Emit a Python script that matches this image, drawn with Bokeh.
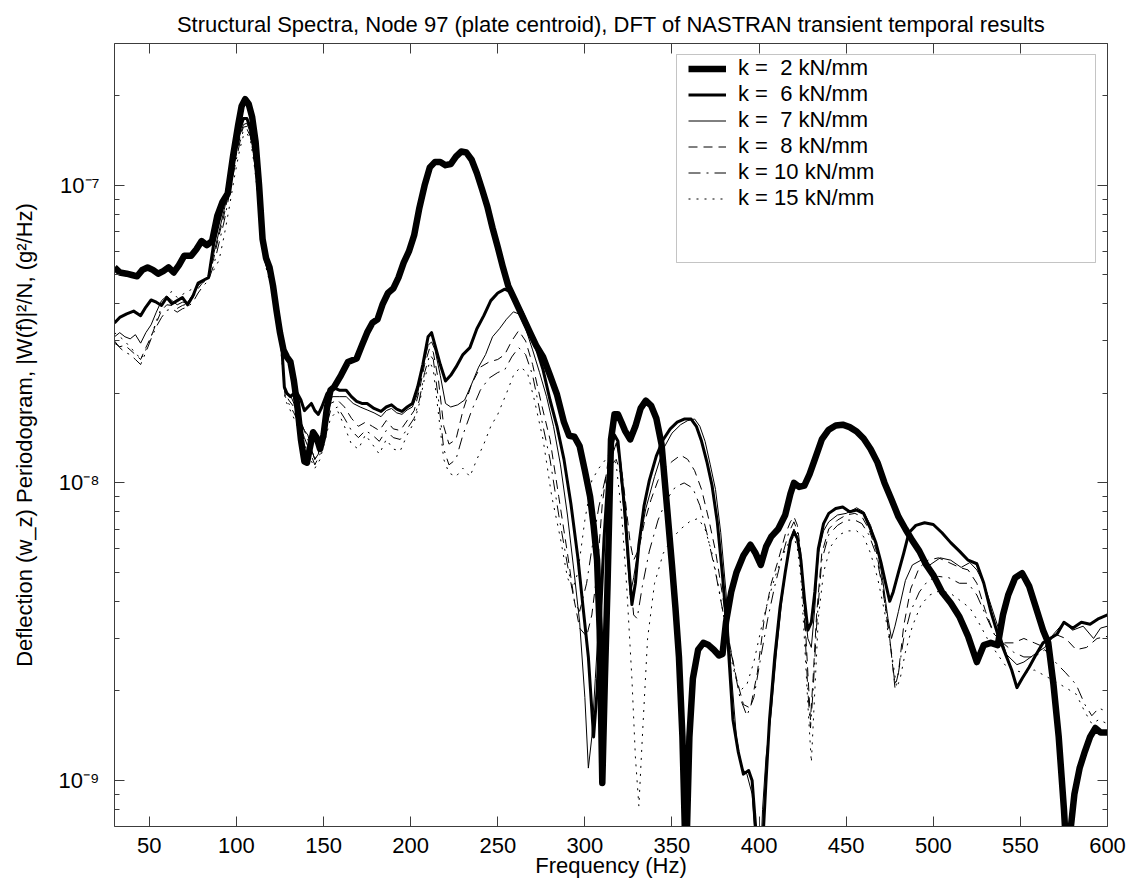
import math
from bokeh.plotting import figure
from bokeh.models import (LinearAxis, LogAxis, FixedTicker, CustomJSTickFormatter, Title,
                          Legend, LegendItem, BoxAnnotation, Range1d)
from bokeh.embed import file_html
from bokeh.resources import INLINE

# ---------------- data (frequency Hz, periodogram g^2/Hz) ----------------
k2 = [(30, 5.3e-8), (33, 5.1e-8), (37, 5.05e-8), (40, 5.0e-8), (43, 4.95e-8), (46, 5.2e-8),
      (49, 5.3e-8), (52, 5.2e-8), (55, 5.05e-8), (58, 5.15e-8), (61, 5.3e-8), (64, 5.1e-8),
      (67, 5.4e-8), (70, 5.8e-8), (74, 5.8e-8), (77, 6.1e-8), (80, 6.5e-8), (83, 6.3e-8),
      (86, 6.5e-8), (89, 7.9e-8), (92, 8.8e-8), (95, 9.4e-8), (98, 1.25e-7), (101, 1.6e-7),
      (103, 1.85e-7), (105, 1.95e-7), (107, 1.88e-7), (109, 1.7e-7), (111, 1.4e-7), (113, 1.0e-7),
      (115, 6.6e-8), (117, 5.7e-8), (119, 5.3e-8), (121, 4.6e-8), (123, 3.8e-8), (125, 3.2e-8),
      (127, 2.8e-8), (129, 2.65e-8), (131, 2.55e-8), (133, 2.2e-8), (135, 1.8e-8), (137, 1.4e-8),
      (139, 1.18e-8), (140.5, 1.17e-8), (142, 1.3e-8), (144, 1.48e-8), (146, 1.42e-8), (148, 1.3e-8),
      (150, 1.45e-8), (152, 1.8e-8), (154, 2.05e-8), (156, 2.1e-8), (160, 2.3e-8), (164, 2.55e-8),
      (169, 2.62e-8), (172, 2.9e-8), (175, 3.2e-8), (178, 3.45e-8), (181, 3.55e-8), (184, 4.0e-8),
      (187, 4.35e-8), (190, 4.5e-8), (193, 4.9e-8), (196, 5.5e-8), (199, 6.0e-8), (202, 6.8e-8),
      (205, 8.4e-8), (208, 1.0e-7), (211, 1.15e-7), (214, 1.2e-7), (217, 1.2e-7), (220, 1.17e-7),
      (223, 1.18e-7), (226, 1.25e-7), (229, 1.3e-7), (232, 1.29e-7), (235, 1.22e-7), (238, 1.1e-7),
      (241, 9.7e-8), (244, 8.5e-8), (247, 7.2e-8), (250, 6.2e-8), (253, 5.3e-8), (256, 4.6e-8),
      (260, 4.1e-8), (264, 3.65e-8), (268, 3.25e-8), (272, 2.9e-8), (276, 2.65e-8), (280, 2.3e-8),
      (284, 1.98e-8), (288, 1.6e-8), (291, 1.44e-8), (294, 1.43e-8), (297, 1.33e-8), (300, 1.1e-8),
      (303, 9.0e-9), (305, 7.2e-9), (307, 5.5e-9), (308.5, 3.2e-9), (310, 9.8e-10), (311.5, 2.2e-9),
      (313, 4.5e-9), (315, 1.4e-8), (317, 1.7e-8), (319, 1.7e-8), (321, 1.6e-8), (323, 1.5e-8),
      (326, 1.4e-8), (329, 1.55e-8), (332, 1.78e-8), (335, 1.89e-8), (338, 1.82e-8), (341, 1.65e-8),
      (344, 1.35e-8), (347, 8.5e-9), (350, 5.3e-9), (352, 3.8e-9), (354, 2.6e-9), (356, 1.4e-9),
      (358, 5e-10), (360, 1.4e-9), (362, 2.2e-9), (365, 2.75e-9), (368, 2.9e-9), (371, 2.85e-9),
      (374, 2.75e-9), (377, 2.63e-9), (379, 2.66e-9), (381, 3.4e-9), (384, 4.3e-9), (387, 5.0e-9),
      (391, 5.7e-9), (395, 6.2e-9), (398, 5.8e-9), (401, 5.3e-9), (404, 6.1e-9), (407, 6.6e-9),
      (411, 7.0e-9), (415, 7.8e-9), (418, 9.2e-9), (420, 1.0e-8), (423, 9.7e-9), (426, 9.8e-9),
      (429, 1.07e-8), (432, 1.2e-8), (436, 1.4e-8), (440, 1.51e-8), (444, 1.56e-8), (448, 1.57e-8),
      (452, 1.54e-8), (456, 1.49e-8), (460, 1.41e-8), (464, 1.3e-8), (468, 1.17e-8), (472, 1.0e-8),
      (476, 8.8e-9), (480, 7.7e-9), (484, 7.0e-9), (488, 6.4e-9), (492, 5.9e-9), (496, 5.3e-9),
      (500, 4.9e-9), (505, 4.3e-9), (510, 3.95e-9), (515, 3.55e-9), (520, 3.05e-9), (525, 2.5e-9),
      (529, 2.85e-9), (533, 2.9e-9), (537, 2.85e-9), (540, 3.6e-9), (543, 4.2e-9), (547, 4.8e-9),
      (551, 4.97e-9), (555, 4.5e-9), (559, 3.8e-9), (563, 3.2e-9), (566, 2.9e-9), (569, 2.1e-9),
      (572, 1.4e-9), (575, 8e-10), (577, 5e-10), (579, 7e-10), (581, 9e-10), (584, 1.1e-9),
      (587, 1.25e-9), (590, 1.4e-9), (593, 1.5e-9), (596, 1.45e-9), (600, 1.45e-9)]

k6 = [(30, 3.45e-8), (33, 3.6e-8), (37, 3.7e-8), (41, 3.78e-8), (45, 3.65e-8), (48, 3.9e-8),
      (51, 4.12e-8), (54, 4.05e-8), (57, 3.95e-8), (60, 4.2e-8), (63, 4.0e-8), (66, 4.1e-8),
      (69, 4.2e-8), (72, 3.97e-8), (75, 4.25e-8), (78, 4.7e-8), (81, 4.8e-8), (84, 4.9e-8),
      (87, 6.4e-8), (90, 7.6e-8), (93, 8.8e-8), (96, 1.05e-7), (99, 1.3e-7), (102, 1.55e-7),
      (104, 1.68e-7), (106, 1.68e-7), (108, 1.56e-7), (110, 1.32e-7), (112, 1.06e-7), (114, 7.8e-8),
      (116, 5.9e-8), (118, 5.3e-8), (120, 4.9e-8), (122, 4.3e-8), (124, 3.7e-8), (126, 2.9e-8),
      (127.5, 2.1e-8), (129, 2.0e-8), (131, 1.95e-8), (133, 2.0e-8), (135, 2.0e-8), (137, 1.9e-8),
      (139, 1.75e-8), (141, 1.8e-8), (143, 1.85e-8), (145, 1.75e-8), (147, 1.7e-8), (149, 1.8e-8),
      (152, 2.0e-8), (155, 2.1e-8), (159, 2.05e-8), (163, 2.05e-8), (166, 1.95e-8), (169, 1.88e-8),
      (172, 1.85e-8), (175, 1.85e-8), (179, 1.78e-8), (183, 1.74e-8), (186, 1.8e-8), (189, 1.83e-8),
      (192, 1.77e-8), (195, 1.74e-8), (198, 1.8e-8), (201, 1.85e-8), (204, 2.1e-8), (207, 2.5e-8),
      (210, 3.1e-8), (212, 3.2e-8), (214, 2.9e-8), (217, 2.5e-8), (220, 2.2e-8), (223, 2.3e-8),
      (226, 2.45e-8), (230, 2.7e-8), (234, 2.85e-8), (238, 3.3e-8), (242, 3.65e-8), (246, 4.1e-8),
      (250, 4.35e-8), (254, 4.48e-8), (257, 4.4e-8), (260, 4.1e-8), (264, 3.75e-8), (268, 3.3e-8),
      (272, 2.85e-8), (276, 2.4e-8), (280, 1.9e-8), (284, 1.55e-8), (288, 1.2e-8), (292, 8.5e-9),
      (296, 5.6e-9), (299, 3.8e-9), (302, 2.6e-9), (305, 1.4e-9), (307, 2.0e-9), (309, 3.6e-9),
      (311, 6.5e-9), (313, 1.0e-8), (315, 1.3e-8), (317, 1.45e-8), (319, 1.38e-8), (321, 1.05e-8),
      (323, 8.0e-9), (325, 5.5e-9), (327, 3.9e-9), (329, 4.6e-9), (331, 6.2e-9), (334, 8.4e-9),
      (337, 1.02e-8), (341, 1.23e-8), (345, 1.4e-8), (349, 1.52e-8), (353, 1.6e-8), (357, 1.64e-8),
      (361, 1.64e-8), (364, 1.55e-8), (367, 1.38e-8), (370, 1.18e-8), (373, 9.8e-9), (376, 7.4e-9),
      (379, 4.9e-9), (382, 3.0e-9), (385, 1.6e-9), (388, 1.25e-9), (391, 1.05e-9), (394, 1.08e-9),
      (396, 1.0e-9), (398, 7e-10), (400, 5e-10), (402, 6e-10), (404, 1.0e-9), (406, 1.6e-9),
      (409, 2.6e-9), (412, 3.8e-9), (415, 5.0e-9), (418, 6.4e-9), (420, 6.85e-9), (422, 6.5e-9),
      (424, 5.5e-9), (426, 4.1e-9), (428, 3.2e-9), (430, 3.4e-9), (432, 4.3e-9), (434, 6.0e-9),
      (437, 7.3e-9), (440, 7.9e-9), (444, 8.2e-9), (448, 8.3e-9), (452, 8.0e-9), (456, 8.1e-9),
      (460, 7.9e-9), (464, 7.0e-9), (467, 6.3e-9), (470, 5.4e-9), (473, 4.5e-9), (475, 4.0e-9),
      (477, 4.3e-9), (480, 5.0e-9), (483, 5.8e-9), (486, 6.8e-9), (490, 7.2e-9), (495, 7.35e-9),
      (500, 7.25e-9), (505, 6.8e-9), (510, 6.3e-9), (515, 5.9e-9), (520, 5.5e-9), (525, 5.35e-9),
      (529, 4.6e-9), (533, 3.7e-9), (537, 3.1e-9), (541, 2.7e-9), (545, 2.35e-9), (548, 2.05e-9),
      (551, 2.2e-9), (555, 2.4e-9), (559, 2.65e-9), (563, 2.9e-9), (567, 3.0e-9), (571, 3.1e-9),
      (575, 3.4e-9), (580, 3.25e-9), (585, 3.4e-9), (590, 3.35e-9), (595, 3.5e-9), (600, 3.6e-9)]

k7 = [(30, 3.1e-8), (33, 3.2e-8), (36, 3.1e-8), (39, 3.05e-8), (42, 3.15e-8), (45, 2.95e-8),
      (48, 3.2e-8), (51, 3.4e-8), (54, 3.75e-8), (57, 4.1e-8), (60, 4.25e-8), (63, 4.1e-8),
      (66, 3.97e-8), (69, 4.05e-8), (72, 4.05e-8), (75, 4.3e-8), (78, 4.6e-8), (81, 4.8e-8),
      (84, 4.9e-8), (87, 5.9e-8), (90, 7.0e-8), (93, 8.3e-8), (96, 1.0e-7), (99, 1.22e-7),
      (102, 1.48e-7), (104, 1.6e-7), (106, 1.62e-7), (108, 1.5e-7), (110, 1.28e-7), (112, 1.0e-7),
      (114, 7.6e-8), (116, 5.8e-8), (118, 5.2e-8), (120, 4.8e-8), (122, 4.2e-8), (124, 3.6e-8),
      (126, 2.8e-8), (127.5, 2.05e-8), (129, 1.98e-8), (131, 1.97e-8), (133, 1.85e-8), (135, 1.7e-8),
      (137, 1.6e-8), (139, 1.5e-8), (141, 1.45e-8), (143, 1.3e-8), (145, 1.2e-8), (147, 1.25e-8),
      (149, 1.5e-8), (152, 1.8e-8), (155, 1.95e-8), (159, 1.95e-8), (163, 1.95e-8), (167, 1.85e-8),
      (171, 1.8e-8), (175, 1.76e-8), (179, 1.72e-8), (183, 1.67e-8), (186, 1.75e-8), (189, 1.78e-8),
      (192, 1.72e-8), (195, 1.7e-8), (198, 1.76e-8), (201, 1.8e-8), (204, 2.0e-8), (207, 2.45e-8),
      (210, 2.9e-8), (212, 2.98e-8), (214, 2.8e-8), (217, 2.3e-8), (220, 1.85e-8), (223, 1.8e-8),
      (227, 1.83e-8), (231, 1.9e-8), (235, 2.15e-8), (239, 2.45e-8), (243, 2.7e-8), (247, 3.1e-8),
      (251, 3.3e-8), (255, 3.55e-8), (259, 3.76e-8), (262, 3.7e-8), (266, 3.3e-8), (270, 2.8e-8),
      (274, 2.35e-8), (278, 1.95e-8), (282, 1.55e-8), (286, 1.15e-8), (290, 7.8e-9), (294, 4.9e-9),
      (297, 3.4e-9), (300, 1.9e-9), (302, 1.1e-9), (304, 1.4e-9), (306, 2.2e-9), (309, 4.3e-9),
      (312, 8.0e-9), (315, 1.2e-8), (318, 1.36e-8), (320, 1.2e-8), (322, 8.5e-9), (324, 6.0e-9),
      (326, 4.2e-9), (328, 4.8e-9), (331, 6.2e-9), (335, 8.2e-9), (340, 1.05e-8), (345, 1.3e-8),
      (350, 1.47e-8), (355, 1.57e-8), (359, 1.62e-8), (363, 1.64e-8), (366, 1.55e-8), (369, 1.38e-8),
      (372, 1.15e-8), (375, 9.5e-9), (378, 6.8e-9), (381, 4.3e-9), (384, 2.3e-9), (387, 1.4e-9),
      (390, 1.1e-9), (393, 1.05e-9), (396, 9e-10), (398, 6e-10), (400, 4e-10), (402, 8e-10),
      (404, 1.2e-9), (407, 1.7e-9), (410, 2.7e-9), (413, 4.0e-9), (416, 5.5e-9), (418, 6.4e-9),
      (420, 7.0e-9), (422, 6.6e-9), (424, 5.6e-9), (426, 4.0e-9), (428, 3.0e-9), (430, 2.8e-9),
      (432, 3.8e-9), (434, 5.8e-9), (437, 6.9e-9), (440, 7.4e-9), (445, 7.8e-9), (450, 7.9e-9),
      (456, 8.25e-9), (460, 8.0e-9), (464, 7.2e-9), (468, 6.0e-9), (471, 4.7e-9), (474, 3.5e-9),
      (476, 3.0e-9), (478, 3.3e-9), (480, 3.7e-9), (484, 4.7e-9), (488, 5.3e-9), (493, 5.5e-9),
      (498, 5.3e-9), (504, 5.6e-9), (510, 5.5e-9), (516, 5.2e-9), (521, 5.4e-9), (525, 5.1e-9),
      (529, 4.6e-9), (533, 3.9e-9), (537, 3.3e-9), (542, 2.65e-9), (548, 2.45e-9), (552, 2.5e-9),
      (556, 2.6e-9), (560, 2.7e-9), (564, 2.8e-9), (569, 3.1e-9), (575, 3.4e-9), (580, 3.2e-9),
      (586, 3.3e-9), (592, 3.0e-9), (596, 3.25e-9), (600, 3.3e-9)]

k8 = [(30, 2.95e-8), (33, 2.87e-8), (36, 2.9e-8), (39, 2.8e-8), (42, 2.7e-8), (45, 2.6e-8),
      (48, 2.85e-8), (51, 3.1e-8), (54, 3.45e-8), (57, 3.8e-8), (60, 3.97e-8), (63, 3.95e-8),
      (66, 3.86e-8), (69, 3.95e-8), (72, 4.0e-8), (75, 4.2e-8), (78, 4.5e-8), (81, 4.75e-8),
      (84, 4.9e-8), (87, 5.7e-8), (90, 6.8e-8), (93, 8.0e-8), (96, 9.8e-8), (99, 1.2e-7),
      (102, 1.45e-7), (104, 1.57e-7), (106, 1.58e-7), (108, 1.48e-7), (110, 1.26e-7), (112, 1.0e-7),
      (114, 7.5e-8), (116, 5.8e-8), (118, 5.2e-8), (120, 4.75e-8), (122, 4.15e-8), (124, 3.55e-8),
      (126, 2.75e-8), (128, 2.0e-8), (130, 1.9e-8), (133, 1.8e-8), (136, 1.65e-8), (139, 1.5e-8),
      (142, 1.35e-8), (145, 1.2e-8), (148, 1.3e-8), (151, 1.6e-8), (154, 1.85e-8), (158, 1.9e-8),
      (162, 1.8e-8), (166, 1.65e-8), (170, 1.55e-8), (174, 1.6e-8), (178, 1.55e-8), (182, 1.5e-8),
      (186, 1.62e-8), (190, 1.52e-8), (194, 1.5e-8), (198, 1.62e-8), (202, 1.75e-8), (205, 2.05e-8),
      (208, 2.5e-8), (211, 2.85e-8), (213, 2.75e-8), (216, 2.2e-8), (219, 1.55e-8), (222, 1.35e-8),
      (226, 1.4e-8), (230, 1.75e-8), (235, 2.15e-8), (240, 2.45e-8), (245, 2.55e-8), (250, 2.6e-8),
      (254, 2.7e-8), (258, 3.0e-8), (262, 3.25e-8), (266, 3.0e-8), (270, 2.5e-8), (275, 1.85e-8),
      (280, 1.4e-8), (285, 9.0e-9), (290, 5.8e-9), (294, 4.0e-9), (297, 3.25e-9), (301, 3.05e-9),
      (304, 3.6e-9), (307, 5.0e-9), (310, 8.5e-9), (313, 1.15e-8), (316, 1.32e-8), (318, 1.38e-8),
      (320, 1.25e-8), (323, 9.0e-9), (326, 6.3e-9), (328, 5.5e-9), (331, 6.0e-9), (334, 7.3e-9),
      (338, 8.8e-9), (342, 1.02e-8), (346, 1.12e-8), (350, 1.18e-8), (355, 1.24e-8), (359, 1.2e-8),
      (363, 1.1e-8), (367, 9.5e-9), (371, 7.6e-9), (375, 5.9e-9), (379, 4.2e-9), (383, 2.9e-9),
      (387, 2.2e-9), (391, 1.8e-9), (395, 1.75e-9), (399, 2.3e-9), (403, 3.5e-9), (407, 4.6e-9),
      (411, 5.5e-9), (415, 6.7e-9), (418, 7.4e-9), (420, 7.7e-9), (422, 7.2e-9), (424, 5.8e-9),
      (426, 3.8e-9), (428, 2.3e-9), (429.5, 1.6e-9), (431, 2.2e-9), (433, 3.6e-9), (436, 5.8e-9),
      (440, 7.0e-9), (445, 7.5e-9), (450, 7.8e-9), (455, 7.9e-9), (459, 7.7e-9), (463, 7.0e-9),
      (467, 6.0e-9), (471, 4.5e-9), (475, 3.0e-9), (478, 2.05e-9), (480, 2.3e-9), (483, 3.3e-9),
      (487, 4.4e-9), (492, 5.2e-9), (497, 5.5e-9), (503, 5.6e-9), (509, 5.4e-9), (515, 5.2e-9),
      (520, 5.1e-9), (525, 4.6e-9), (530, 3.7e-9), (535, 3.1e-9), (540, 2.9e-9), (546, 2.9e-9),
      (552, 3.0e-9), (558, 2.9e-9), (564, 2.8e-9), (570, 3.1e-9), (576, 3.0e-9), (582, 2.75e-9),
      (588, 2.8e-9), (594, 3.0e-9), (600, 3.05e-9)]

k10 = [(30, 3.0e-8), (33, 2.85e-8), (36, 2.75e-8), (39, 2.7e-8), (42, 2.6e-8), (45, 2.5e-8),
       (48, 2.75e-8), (51, 3.05e-8), (54, 3.35e-8), (57, 3.6e-8), (60, 3.8e-8), (63, 3.85e-8),
       (66, 3.75e-8), (69, 3.85e-8), (72, 3.9e-8), (75, 4.05e-8), (78, 4.35e-8), (81, 4.6e-8),
       (84, 4.8e-8), (87, 5.4e-8), (90, 6.4e-8), (93, 7.6e-8), (96, 9.4e-8), (99, 1.15e-7),
       (102, 1.4e-7), (104, 1.53e-7), (106, 1.55e-7), (108, 1.46e-7), (110, 1.24e-7), (112, 9.8e-8),
       (114, 7.4e-8), (116, 5.7e-8), (118, 5.1e-8), (120, 4.7e-8), (122, 4.1e-8), (124, 3.5e-8),
       (126, 2.7e-8), (128, 1.95e-8), (130, 1.85e-8), (133, 1.72e-8), (136, 1.58e-8), (139, 1.42e-8),
       (142, 1.28e-8), (145, 1.15e-8), (148, 1.25e-8), (151, 1.5e-8), (154, 1.75e-8), (158, 1.8e-8),
       (162, 1.65e-8), (166, 1.5e-8), (170, 1.42e-8), (174, 1.5e-8), (178, 1.45e-8), (182, 1.38e-8),
       (186, 1.5e-8), (190, 1.42e-8), (194, 1.4e-8), (198, 1.52e-8), (202, 1.65e-8), (205, 1.9e-8),
       (208, 2.35e-8), (211, 2.7e-8), (213, 2.6e-8), (216, 1.9e-8), (219, 1.3e-8), (222, 1.15e-8),
       (226, 1.2e-8), (230, 1.45e-8), (235, 1.75e-8), (240, 2.05e-8), (245, 2.25e-8), (250, 2.35e-8),
       (254, 2.4e-8), (258, 2.65e-8), (262, 2.85e-8), (266, 2.7e-8), (270, 2.3e-8), (275, 1.65e-8),
       (280, 1.2e-8), (285, 7.8e-9), (290, 5.3e-9), (294, 4.0e-9), (297, 3.7e-9), (301, 4.6e-9),
       (304, 6.0e-9), (308, 8.3e-9), (312, 1.05e-8), (315, 1.15e-8), (318, 1.2e-8), (320, 1.1e-8),
       (323, 8.0e-9), (326, 4.8e-9), (328, 3.6e-9), (330, 3.5e-9), (333, 4.5e-9), (337, 5.9e-9),
       (342, 7.5e-9), (347, 8.8e-9), (352, 9.7e-9), (357, 1.0e-8), (362, 9.6e-9), (366, 8.4e-9),
       (370, 6.8e-9), (375, 5.0e-9), (380, 3.5e-9), (385, 2.5e-9), (389, 1.9e-9), (393, 1.65e-9),
       (397, 1.9e-9), (401, 2.6e-9), (405, 3.5e-9), (409, 4.5e-9), (413, 5.6e-9), (417, 6.8e-9),
       (420, 7.4e-9), (422, 6.9e-9), (424, 5.4e-9), (426, 3.5e-9), (428, 2.0e-9), (429.5, 1.5e-9),
       (431, 2.0e-9), (433, 3.3e-9), (436, 5.5e-9), (440, 6.7e-9), (445, 7.2e-9), (450, 7.5e-9),
       (455, 7.5e-9), (459, 7.3e-9), (463, 6.7e-9), (467, 5.8e-9), (471, 4.4e-9), (475, 3.0e-9),
       (478, 2.1e-9), (480, 2.3e-9), (483, 3.0e-9), (487, 3.7e-9), (492, 4.3e-9), (497, 4.7e-9),
       (503, 4.85e-9), (509, 4.8e-9), (515, 4.6e-9), (520, 4.6e-9), (525, 4.2e-9), (530, 3.6e-9),
       (535, 3.1e-9), (540, 2.9e-9), (546, 2.7e-9), (552, 2.6e-9), (558, 2.6e-9), (564, 2.75e-9),
       (570, 2.5e-9), (576, 2.3e-9), (582, 2.1e-9), (587, 1.8e-9), (591, 1.65e-9), (595, 1.75e-9),
       (600, 1.7e-9)]

k15 = [(30, 3.2e-8), (33, 3.1e-8), (36, 3.0e-8), (39, 2.85e-8), (42, 2.75e-8), (45, 2.6e-8),
       (48, 2.8e-8), (51, 3.1e-8), (54, 3.5e-8), (57, 3.9e-8), (60, 4.3e-8), (63, 4.4e-8),
       (66, 4.2e-8), (69, 4.3e-8), (72, 4.4e-8), (75, 4.5e-8), (78, 4.6e-8), (81, 4.7e-8),
       (84, 5.0e-8), (87, 5.2e-8), (90, 5.6e-8), (93, 6.8e-8), (96, 8.5e-8), (99, 1.08e-7),
       (102, 1.33e-7), (104, 1.47e-7), (106, 1.5e-7), (108, 1.42e-7), (110, 1.2e-7), (112, 9.6e-8),
       (114, 7.3e-8), (116, 5.6e-8), (118, 5.0e-8), (120, 4.6e-8), (122, 4.0e-8), (124, 3.4e-8),
       (126, 2.6e-8), (128, 1.9e-8), (130, 1.8e-8), (133, 1.65e-8), (136, 1.5e-8), (139, 1.35e-8),
       (142, 1.22e-8), (145, 1.12e-8), (148, 1.2e-8), (151, 1.4e-8), (154, 1.65e-8), (158, 1.75e-8),
       (162, 1.55e-8), (166, 1.35e-8), (170, 1.3e-8), (174, 1.45e-8), (178, 1.35e-8), (182, 1.25e-8),
       (186, 1.4e-8), (190, 1.3e-8), (194, 1.28e-8), (198, 1.45e-8), (202, 1.6e-8), (205, 1.85e-8),
       (208, 2.25e-8), (211, 2.55e-8), (213, 2.4e-8), (216, 1.7e-8), (219, 1.2e-8), (222, 1.08e-8),
       (226, 1.05e-8), (230, 1.12e-8), (234, 1.05e-8), (238, 1.2e-8), (242, 1.35e-8), (246, 1.55e-8),
       (250, 1.7e-8), (255, 2.0e-8), (259, 2.3e-8), (263, 2.45e-8), (267, 2.35e-8), (271, 1.9e-8),
       (276, 1.4e-8), (281, 9.0e-9), (286, 6.5e-9), (290, 4.8e-9), (293, 4.4e-9), (296, 5.0e-9),
       (300, 7.5e-9), (304, 1.02e-8), (308, 1.12e-8), (312, 1.2e-8), (315, 1.28e-8), (318, 1.15e-8),
       (321, 8.0e-9), (324, 4.5e-9), (327, 2.2e-9), (329, 1.2e-9), (331, 8.2e-10), (333, 1.4e-9),
       (336, 3.0e-9), (340, 4.6e-9), (345, 5.8e-9), (350, 6.5e-9), (355, 7.0e-9), (360, 7.4e-9),
       (365, 7.6e-9), (369, 7.0e-9), (373, 5.8e-9), (377, 4.4e-9), (381, 3.2e-9), (385, 2.4e-9),
       (389, 2.0e-9), (393, 2.1e-9), (397, 2.5e-9), (401, 3.2e-9), (405, 4.0e-9), (409, 4.8e-9),
       (413, 5.6e-9), (417, 6.3e-9), (420, 6.6e-9), (422, 6.0e-9), (424, 4.8e-9), (426, 3.0e-9),
       (428, 1.8e-9), (430, 1.15e-9), (432, 2.0e-9), (434, 3.5e-9), (437, 5.0e-9), (441, 6.1e-9),
       (446, 6.7e-9), (451, 6.9e-9), (456, 6.9e-9), (460, 6.6e-9), (464, 5.8e-9), (468, 4.8e-9),
       (472, 3.7e-9), (476, 2.7e-9), (479, 2.05e-9), (481, 2.2e-9), (484, 2.7e-9), (488, 3.3e-9),
       (493, 3.9e-9), (498, 4.2e-9), (504, 4.35e-9), (510, 4.25e-9), (516, 4.0e-9), (521, 3.8e-9),
       (526, 3.4e-9), (531, 3.0e-9), (536, 2.7e-9), (541, 2.45e-9), (546, 2.35e-9), (552, 2.3e-9),
       (558, 2.35e-9), (564, 2.25e-9), (570, 2.15e-9), (576, 2.05e-9), (582, 1.95e-9), (587, 1.7e-9),
       (591, 1.55e-9), (595, 1.6e-9), (600, 1.55e-9)]

series_labels = ["k = \u00a02 kN/mm", "k = \u00a06 kN/mm", "k = \u00a07 kN/mm",
                 "k = \u00a08 kN/mm", "k = 10 kN/mm", "k = 15 kN/mm"]

x_ticks = [50, 100, 150, 200, 250, 300, 350, 400, 450, 500, 550, 600]
y_major = [1e-9, 1e-8, 1e-7]
y_tick_labels = ["10\u207b\u2079", "10\u207b\u2078", "10\u207b\u2077"]
y_minor = [m * 10.0 ** e for e in (-10, -9, -8, -7) for m in range(2, 10)]

title_text = "Structural Spectra, Node 97 (plate centroid), DFT of NASTRAN transient temporal results"
xlabel_text = "Frequency (Hz)"
ylabel_text = "Deflection (w_z) Periodogram, |W(f)|\u00b2/N, (g\u00b2/Hz)"

# ---------------- figure ----------------
FONT = "Liberation Sans"
AXC = "#3c3c3c"

p = figure(width=1130, height=886, x_range=Range1d(30, 600), y_range=Range1d(7e-10, 3e-7),
           y_axis_type="log", output_backend="svg", toolbar_location=None, title=None,
           min_border_left=114, min_border_right=23, min_border_top=43, min_border_bottom=60)
p.grid.visible = False
p.outline_line_color = None
p.background_fill_color = "white"
p.border_fill_color = "white"


def style_axis(ax, minor):
    ax.axis_line_color = AXC
    ax.axis_line_width = 1
    ax.major_tick_line_color = AXC
    ax.major_tick_in = 10
    ax.major_tick_out = 0
    ax.minor_tick_line_color = AXC if minor else None
    ax.minor_tick_in = 5
    ax.minor_tick_out = 0


def blank():
    return CustomJSTickFormatter(code="return ''")


xb = p.xaxis[0]
xb.ticker = FixedTicker(ticks=x_ticks)
style_axis(xb, False)
xb.major_label_text_font = FONT
xb.major_label_text_font_size = "22px"
xb.major_label_text_color = "black"
xb.major_label_standoff = 11
xb.axis_label = xlabel_text
xb.axis_label_text_font = FONT
xb.axis_label_text_font_size = "22px"
xb.axis_label_text_font_style = "normal"
xb.axis_label_text_color = "black"
xb.axis_label_standoff = -3

xt = LinearAxis(ticker=FixedTicker(ticks=x_ticks), formatter=blank())
style_axis(xt, False)
xt.major_label_standoff = 0
p.add_layout(xt, "above")

yl = p.yaxis[0]
yl.ticker = FixedTicker(ticks=y_major, minor_ticks=y_minor)
yl.formatter = CustomJSTickFormatter(args=dict(labels=y_tick_labels),
                                     code="return labels[index]")
style_axis(yl, True)
yl.major_label_text_font = FONT
yl.major_label_text_font_size = "22px"
yl.major_label_text_color = "black"
yl.major_label_standoff = 15
yl.axis_label = ylabel_text
yl.axis_label_text_font = FONT
yl.axis_label_text_font_size = "22px"
yl.axis_label_text_font_style = "normal"
yl.axis_label_text_color = "black"
yl.axis_label_standoff = 19

yr = LogAxis(ticker=FixedTicker(ticks=y_major, minor_ticks=y_minor), formatter=blank())
yr.major_label_standoff = 0
style_axis(yr, True)
p.add_layout(yr, "right")

p.add_layout(Title(text=title_text, align="center", vertical_align="top",
                   text_font=FONT, text_font_size="22px",
                   text_font_style="normal", text_color="black", standoff=10), "above")

# ---------------- lines ----------------
styles = [
    (k15, 1, "2 6"),
    (k10, 1, "12 6 2 6"),
    (k8, 1, "9 6"),
    (k7, 1, "solid"),
    (k6, 3, "solid"),
    (k2, 6.5, "solid"),
]
rends = []
for data, lw, dash in styles:
    fx = [d[0] for d in data]
    fy = [d[1] for d in data]
    r = p.line(fx, fy, line_color="black", line_width=lw, line_dash=dash,
               line_join="round", line_cap="butt")
    rends.append(r)
rends = rends[::-1]  # k2, k6, k7, k8, k10, k15

# ---------------- legend ----------------
box = BoxAnnotation(left=562, right=981, bottom=564, top=772,
                    left_units="screen", right_units="screen",
                    bottom_units="screen", top_units="screen",
                    fill_color="white", fill_alpha=1.0, line_color=AXC, line_width=1)
p.add_layout(box)

legend = Legend(items=[LegendItem(label=lab, renderers=[r]) for lab, r in zip(series_labels, rends)],
                location=(574, 615), orientation="vertical",
                label_text_font=FONT, label_text_font_size="22px", label_text_color="black",
                glyph_width=38, glyph_height=25, label_height=25, label_standoff=12,
                spacing=0, padding=10, margin=0,
                border_line_color=None, background_fill_alpha=0.0)
p.add_layout(legend)

open("out.html", "w").write(file_html(p, INLINE))
